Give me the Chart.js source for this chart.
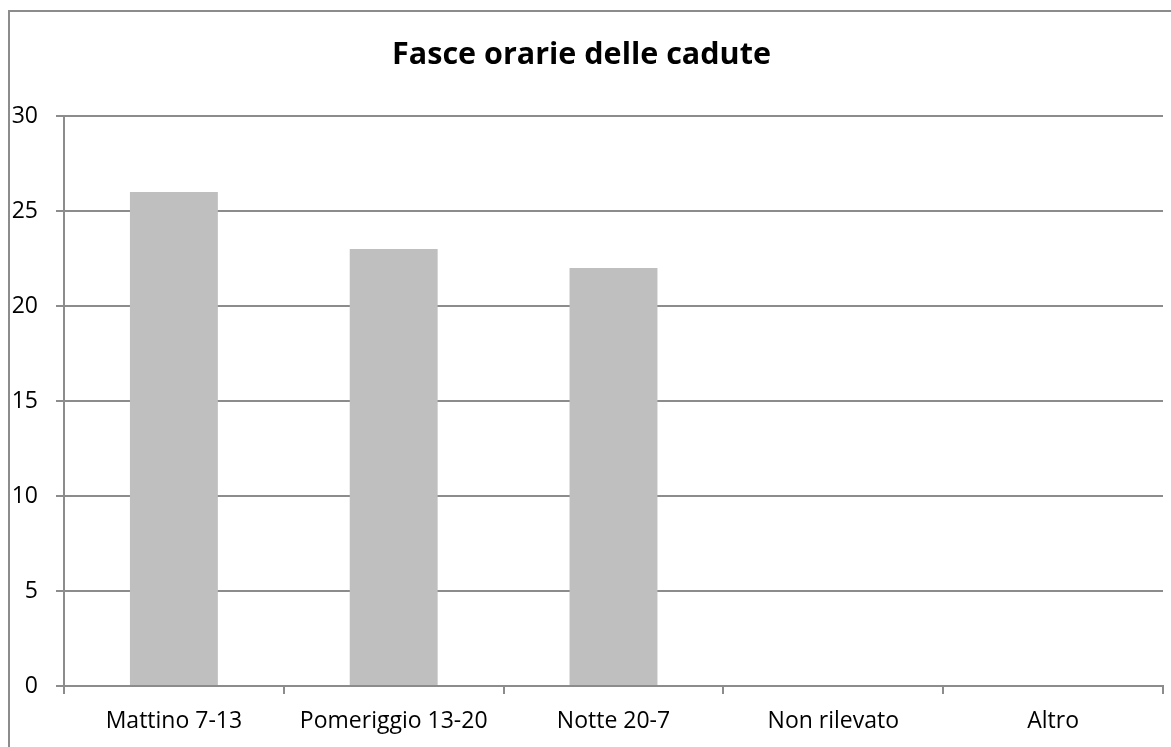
<!DOCTYPE html>
<html>
<head>
<meta charset="utf-8">
<script src="https://cdn.jsdelivr.net/npm/chart.js@4.4.1/dist/chart.umd.min.js"></script>
<style>
html,body{margin:0;padding:0;background:#fff;}
#wrap{width:1171px;height:747px;position:relative;}
</style>
</head>
<body>
<div id="wrap"><canvas id="c" width="1171" height="747"></canvas></div>
<script>
const categories = ["Mattino 7-13", "Pomeriggio 13-20", "Notte 20-7", "Non rilevato", "Altro"];
const values = [26, 23, 22, 0, 0];
const yTicks = [0, 5, 10, 15, 20, 25, 30];
const chartTitle = "Fasce orarie delle cadute";

const GRID = "#8c8c8c";
const FONT = "'Open Sans', 'Liberation Sans', sans-serif";

const framePlugin = {
  id: 'frame',
  beforeDraw(chart) {
    const ctx = chart.ctx;
    ctx.save();
    ctx.fillStyle = '#ffffff';
    ctx.fillRect(0, 0, chart.width, chart.height);
    ctx.strokeStyle = GRID;
    ctx.lineWidth = 2;
    ctx.strokeRect(9, 11, 3000, 3000);
    ctx.restore();
  }
};

new Chart(document.getElementById('c'), {
  type: 'bar',
  data: {
    labels: categories,
    datasets: [{
      data: values,
      backgroundColor: '#bfbfbf',
      borderWidth: 0,
      barPercentage: 0.5,
      categoryPercentage: 0.8
    }]
  },
  options: {
    responsive: false,
    animation: false,
    devicePixelRatio: 1,
    layout: { padding: { left: 0, right: 8, top: 0, bottom: 0 } },
    plugins: {
      legend: { display: false },
      tooltip: { enabled: false },
      title: {
        display: true,
        text: chartTitle,
        color: '#000',
        font: { family: FONT, size: 30.5, weight: 'bold' },
        padding: { top: 37, bottom: 42.4 }
      }
    },
    scales: {
      x: {
        grid: {
          display: true,
          drawOnChartArea: false,
          drawTicks: true,
          tickLength: 8,
          color: GRID,
          lineWidth: 2,
          offset: true
        },
        border: { display: true, color: GRID, width: 2 },
        ticks: {
          color: '#000',
          font: { family: FONT, size: 23 },
          padding: 14,
          maxRotation: 0,
          autoSkip: false
        },
        afterFit(scale) { scale.height = 61; }
      },
      y: {
        min: 0,
        max: 30,
        afterBuildTicks(scale) { scale.ticks = yTicks.map(v => ({ value: v })); },
        grid: {
          color: GRID,
          drawTicks: true,
          tickLength: 8,
          lineWidth: 2
        },
        border: { display: true, color: GRID, width: 2 },
        ticks: {
          color: '#000',
          font: { family: FONT, size: 23 },
          padding: 18
        },
        afterFit(scale) { scale.width = 64; }
      }
    }
  },
  plugins: [framePlugin]
});
</script>
</body>
</html>
